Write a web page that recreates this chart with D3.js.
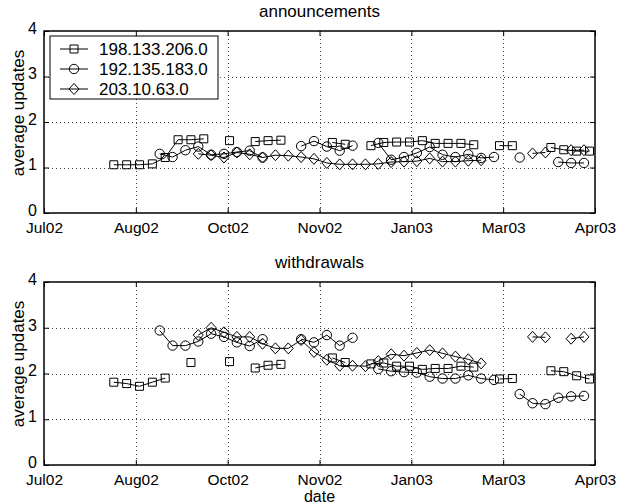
<!DOCTYPE html>
<html lang="en">
<head>
<meta charset="UTF-8">
<title>average updates</title>
<script src="https://cdnjs.cloudflare.com/ajax/libs/d3/7.8.5/d3.min.js"></script>
<style>
  body { margin: 0; background: #fff; }
  text { font-family: "Liberation Sans", Arial, Helvetica, sans-serif; fill: #000; }
</style>
</head>
<body>
<svg id="chart" width="631" height="504"></svg>
<script>

// weekly sample dates of the 198.133.206.0 series
var squareDates = ["2002-08-08","2002-08-15","2002-08-22","2002-08-29","2002-09-05","2002-09-12","2002-09-19","2002-09-26",
  "2002-10-03","2002-10-10","2002-10-17","2002-10-24","2002-10-31","2002-11-07","2002-11-14","2002-11-21","2002-11-28",
  "2002-12-05","2002-12-12","2002-12-19","2002-12-26","2003-01-02","2003-01-09","2003-01-16","2003-01-23","2003-01-30",
  "2003-02-06","2003-02-13","2003-02-20","2003-02-27","2003-03-06","2003-03-13","2003-03-20","2003-03-27","2003-04-03",
  "2003-04-10","2003-04-17","2003-04-24"];

// weekly sample dates of the other two prefixes
var markDates = ["2002-09-02","2002-09-09","2002-09-16","2002-09-23","2002-09-30","2002-10-07","2002-10-14","2002-10-21",
  "2002-10-28","2002-11-04","2002-11-11","2002-11-18","2002-11-25","2002-12-02","2002-12-09","2002-12-16","2002-12-23",
  "2002-12-30","2003-01-06","2003-01-13","2003-01-20","2003-01-27","2003-02-03","2003-02-10","2003-02-17","2003-02-24",
  "2003-03-03","2003-03-10","2003-03-17","2003-03-24","2003-03-31","2003-04-07","2003-04-14","2003-04-21"];

var xDomain = ["2002-07-01", "2003-04-27"];
var tickDates = ["2002-07-01","2002-08-20","2002-10-09","2002-11-28","2003-01-17","2003-03-08","2003-04-27"];
var yTicks = [0, 1, 2, 3, 4];

var prefixes = ["198.133.206.0", "192.135.183.0", "203.10.63.0"];

// announcements
var annSquare = [1.06,1.06,1.06,1.08,1.22,1.61,1.61,1.63,null,1.59,null,1.57,1.59,1.60,null,null,null,1.55,1.51,null,
  1.48,1.55,1.56,1.56,1.59,1.53,1.53,1.53,1.50,null,1.48,1.48,null,null,1.44,1.39,1.36,1.36];
var annCircle = [1.30,1.23,1.38,1.46,1.28,1.30,1.34,1.37,1.22,null,null,1.47,1.58,1.46,1.37,1.48,null,1.54,1.17,1.23,
  1.32,1.45,1.28,1.23,1.29,1.21,1.23,null,1.22,null,null,1.12,1.10,1.10];
var annDiamond = [null,null,null,1.30,1.27,1.22,1.33,1.29,1.22,1.27,1.26,1.23,1.19,1.10,1.07,1.07,1.07,1.08,1.12,1.13,
  1.14,1.20,1.13,1.13,1.15,1.16,null,null,null,1.31,1.33,null,1.38,1.38];

// withdrawals
var wdSquare = [1.81,1.78,1.72,1.81,1.90,null,2.24,null,null,2.26,null,2.12,2.18,2.20,null,null,null,2.34,2.24,null,
  2.21,2.23,2.16,2.16,2.09,2.11,2.11,2.16,2.14,null,1.88,1.89,null,null,2.06,2.04,1.95,1.88];
var wdCircle = [2.94,2.61,2.61,2.70,2.87,2.80,2.68,2.60,2.75,null,null,2.75,2.68,2.84,2.61,2.78,null,2.10,2.05,2.03,
  2.02,1.93,1.89,1.89,1.96,1.89,1.86,null,1.55,1.35,1.33,1.47,1.50,1.51];
var wdDiamond = [null,null,null,2.84,3.00,2.90,2.80,2.80,2.65,2.55,2.55,2.73,2.47,2.30,2.17,2.17,2.16,2.27,2.42,2.39,
  2.45,2.51,2.44,2.37,2.31,2.22,null,null,null,2.80,2.79,null,2.76,2.80];

var parse = d3.timeParse("%Y-%m-%d");
var svg = d3.select("#chart");
var left = 44, right = 595;

var x = d3.scaleTime().domain(xDomain.map(parse)).range([left, right]);

// marker shapes, drawn hollow like the matlab defaults
var shapes = {
  square:  function(cx, cy) { return "M" + (cx - 4) + "," + (cy - 4) + "h8v8h-8Z"; },
  circle:  function(cx, cy) { return "M" + (cx - 4.7) + "," + cy + "a4.7,4.7 0 1,0 9.4,0a4.7,4.7 0 1,0 -9.4,0Z"; },
  diamond: function(cx, cy) { return "M" + cx + "," + (cy - 5.5) + "L" + (cx + 5) + "," + cy + "L" + cx + "," + (cy + 5.5) + "L" + (cx - 5) + "," + cy + "Z"; }
};

var panels = [
  {title: "announcements", top: 31, bottom: 213, series: [annSquare, annCircle, annDiamond], legend: true, yLabelY: 113},
  {title: "withdrawals",   top: 282, bottom: 465, series: [wdSquare, wdCircle, wdDiamond], xlabel: "date", yLabelY: 364}
];
var shapeNames = ["square", "circle", "diamond"];
var dateSets = [squareDates, markDates, markDates];

panels.forEach(function(p) {
  var y = d3.scaleLinear().domain([0, 4]).range([p.bottom, p.top]);
  var g = svg.append("g");

  // dotted grid
  g.selectAll(".vgrid").data(tickDates.slice(1, -1)).enter().append("line")
    .attr("x1", d => Math.round(x(parse(d))) + 0.5).attr("x2", d => Math.round(x(parse(d))) + 0.5)
    .attr("y1", p.top).attr("y2", p.bottom)
    .attr("stroke", "#444").attr("stroke-width", 1).attr("stroke-dasharray", "1,3");
  g.selectAll(".hgrid").data([1, 2, 3]).enter().append("line")
    .attr("x1", left).attr("x2", right)
    .attr("y1", d => Math.round(y(d)) + 0.5).attr("y2", d => Math.round(y(d)) + 0.5)
    .attr("stroke", "#444").attr("stroke-width", 1).attr("stroke-dasharray", "1,3");

  // axes with inward ticks on all four sides
  var xl = g.append("g").attr("transform", "translate(0," + p.bottom + ")")
    .call(d3.axisBottom(x).tickValues(tickDates.map(parse)).tickFormat(d3.timeFormat("%b%y"))
      .tickSizeInner(-5).tickSizeOuter(0).tickPadding(9));
  xl.selectAll("text").style("font-size", "15.5px");
  g.append("g").attr("transform", "translate(0," + p.top + ")")
    .call(d3.axisTop(x).tickValues(tickDates.map(parse)).tickFormat("").tickSizeInner(-5).tickSizeOuter(0));
  var yl = g.append("g").attr("transform", "translate(" + left + ",0)")
    .call(d3.axisLeft(y).tickValues(yTicks).tickFormat(d3.format("d")).tickSizeInner(-5).tickSizeOuter(0).tickPadding(7));
  yl.selectAll("text").attr("dy", "0.15em").style("font-size", "16px");
  g.append("g").attr("transform", "translate(" + right + ",0)")
    .call(d3.axisRight(y).tickValues(yTicks).tickFormat("").tickSizeInner(-5).tickSizeOuter(0));
  g.selectAll(".domain").remove();
  g.selectAll(".tick line").attr("stroke", "#000");
  g.selectAll(".tick text").attr("fill", "#000");

  g.append("rect")
    .attr("x", left).attr("y", p.top).attr("width", right - left).attr("height", p.bottom - p.top)
    .attr("fill", "none").attr("stroke", "#000").attr("stroke-width", 1.5);

  // series: line with gaps, then hollow markers
  p.series.forEach(function(vals, si) {
    var pts = vals.map(function(v, i) { return {date: parse(dateSets[si][i]), v: v}; });
    var line = d3.line().defined(d => d.v != null).x(d => x(d.date)).y(d => y(d.v));
    g.append("path").datum(pts).attr("d", line)
      .attr("fill", "none").attr("stroke", "#000").attr("stroke-width", 1);
    g.selectAll(".m" + si).data(pts.filter(d => d.v != null)).enter().append("path")
      .attr("d", d => shapes[shapeNames[si]](x(d.date), y(d.v)))
      .attr("fill", "none").attr("stroke", "#000").attr("stroke-width", 1);
  });

  g.append("text").attr("x", (left + right) / 2).attr("y", p.top - 14)
    .attr("text-anchor", "middle").style("font-size", "17px").text(p.title);

  g.append("text").attr("transform", "translate(24," + p.yLabelY + ") rotate(-90)")
    .attr("text-anchor", "middle").style("font-size", "17px").text("average updates");

  if (p.xlabel) {
    g.append("text").attr("x", (left + right) / 2).attr("y", p.bottom + 37)
      .attr("text-anchor", "middle").style("font-size", "16px").text(p.xlabel);
  }

  if (p.legend) {
    var lg = g.append("g").attr("transform", "translate(50,36)");
    lg.append("rect").attr("width", 168).attr("height", 63)
      .attr("fill", "#fff").attr("stroke", "#000").attr("stroke-width", 1);
    prefixes.forEach(function(name, i) {
      var ly = 13 + i * 20;
      lg.append("line").attr("x1", 10).attr("x2", 38).attr("y1", ly).attr("y2", ly)
        .attr("stroke", "#000").attr("stroke-width", 1);
      lg.append("path").attr("d", shapes[shapeNames[i]](24, ly))
        .attr("fill", "none").attr("stroke", "#000").attr("stroke-width", 1);
      lg.append("text").attr("x", 49).attr("y", ly).attr("dy", "0.35em")
        .style("font-size", "17px").text(name);
    });
  }
});

</script>
</body>
</html>
